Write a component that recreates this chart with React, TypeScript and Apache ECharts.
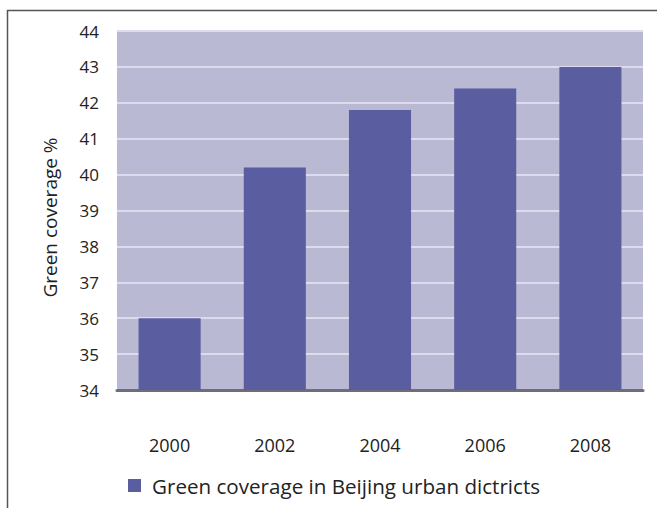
import React, { useEffect, useRef } from "react";
import * as echarts from "echarts";

const categories = ["2000", "2002", "2004", "2006", "2008"];
const coverage = [36.0, 40.2, 41.8, 42.4, 43.0];
const seriesName = "Green coverage in Beijing urban dictricts";
const yTitle = "Green coverage %";

export default function App() {
  const ref = useRef<HTMLDivElement>(null);
  useEffect(() => {
    if (!ref.current) return;
    const chart = echarts.init(ref.current, null, { renderer: "svg" });
    const font = "'Open Sans', 'Noto Sans', sans-serif";
    chart.setOption({
      animation: false,
      backgroundColor: "#ffffff",
      textStyle: { fontFamily: font },
      graphic: [
        {
          type: "rect",
          shape: { x: 7.5, y: 10.5, width: 700, height: 600 },
          style: { fill: "none", stroke: "#555", lineWidth: 1.5 },
          z: 0,
        },
      ],
      grid: {
        left: 117,
        right: 14,
        top: 31,
        bottom: 118,
        show: true,
        backgroundColor: "#b9b9d3",
        borderWidth: 0,
      },
      legend: {
        left: 123,
        top: 470,
        icon: "rect",
        itemWidth: 13,
        itemHeight: 13,
        textStyle: {
          fontSize: 20.6,
          color: "#222",
          fontFamily: font,
          padding: [0, 0, 0, 6],
        },
        data: [seriesName],
      },
      xAxis: {
        type: "category",
        data: categories,
        axisLine: { show: true, lineStyle: { color: "#6e6e78", width: 3 } },
        axisTick: { show: false },
        axisLabel: { fontSize: 18, color: "#222", margin: 46, fontFamily: font },
      },
      yAxis: {
        type: "value",
        min: 34,
        max: 44,
        interval: 1,
        name: yTitle,
        nameLocation: "middle",
        nameGap: 58,
        nameTextStyle: {
          fontSize: 19,
          color: "#222",
          fontFamily: font,
          padding: [0, 14, 0, 0],
        },
        axisLine: { show: false },
        axisTick: { show: false },
        axisLabel: { fontSize: 17, color: "#222", margin: 18, fontFamily: font },
        splitLine: { show: true, lineStyle: { color: "#dcdcee", width: 2 } },
      },
      series: [
        {
          name: seriesName,
          type: "bar",
          data: coverage,
          barWidth: "59%",
          itemStyle: { color: "#5a5d9f" },
          z: 3,
        },
      ],
    });
    return () => chart.dispose();
  }, []);
  return (
    <div
      ref={ref}
      style={{ position: "fixed", left: 0, top: 0, width: 657, height: 508 }}
    />
  );
}
